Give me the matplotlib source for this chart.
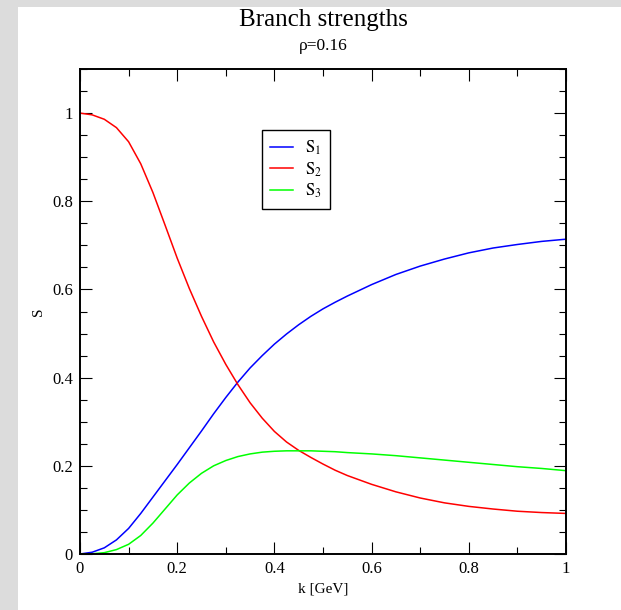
import numpy as np
import matplotlib
matplotlib.use("Agg")
import matplotlib.pyplot as plt
from matplotlib.patches import Rectangle
from matplotlib.ticker import MultipleLocator, FormatStrFormatter

plt.rcParams["font.family"] = ["Liberation Serif", "DejaVu Serif"]
plt.rcParams["mathtext.fontset"] = "stix"

# --- datos ---
k = [0.0, 0.025, 0.05, 0.075, 0.1, 0.125, 0.15, 0.175, 0.2, 0.225, 0.25, 0.275,
     0.3, 0.325, 0.35, 0.375, 0.4, 0.425, 0.45, 0.475, 0.5, 0.525, 0.55, 0.6, 0.65,
     0.7, 0.75, 0.8, 0.85, 0.9, 0.95, 1.0]
s1 = [0.0, 0.004, 0.014, 0.032, 0.058, 0.092, 0.129, 0.166, 0.203, 0.241, 0.279, 0.318,
      0.355, 0.390, 0.422, 0.450, 0.476, 0.499, 0.520, 0.539, 0.556, 0.571, 0.585, 0.611, 0.634,
      0.653, 0.669, 0.683, 0.694, 0.702, 0.709, 0.714]
s2 = [1.0, 0.996, 0.986, 0.967, 0.935, 0.885, 0.820, 0.746, 0.671, 0.602, 0.539, 0.481,
      0.430, 0.384, 0.343, 0.308, 0.278, 0.254, 0.235, 0.219, 0.204, 0.190, 0.178, 0.158, 0.141,
      0.127, 0.116, 0.108, 0.102, 0.097, 0.094, 0.092]
s3 = [0.0, 0.0005, 0.003, 0.010, 0.022, 0.042, 0.070, 0.102, 0.134, 0.161, 0.183, 0.200,
      0.212, 0.221, 0.227, 0.231, 0.233, 0.234, 0.234, 0.234, 0.233, 0.232, 0.230, 0.227, 0.223,
      0.218, 0.213, 0.208, 0.203, 0.198, 0.194, 0.189]

series = [(s1, "#0000ff", r"$\mathrm{S}_1$"),
          (s2, "#ff0000", r"$\mathrm{S}_2$"),
          (s3, "#00ff00", r"$\mathrm{S}_3$")]

W, H = 621, 610
fig = plt.figure(figsize=(W / 100, H / 100), dpi=100)
fig.patch.set_facecolor("#dcdcdc")
fig.patches.append(Rectangle((18 / W, 0), 1 - 18 / W, 1 - 7 / H,
                             transform=fig.transFigure, facecolor="white",
                             edgecolor="none", zorder=-10))

ax = fig.add_axes([80 / W, 1 - 554 / H, 486 / W, 485 / H])
ax.set_zorder(5)
for ys, col, lab in series:
    ax.plot(k, ys, color=col, lw=1.1, label=lab)

ax.set_xlim(0, 1)
ax.set_ylim(0, 1.1)
ax.xaxis.set_major_locator(MultipleLocator(0.2))
ax.xaxis.set_minor_locator(MultipleLocator(0.1))
ax.yaxis.set_major_locator(MultipleLocator(0.2))
ax.yaxis.set_minor_locator(MultipleLocator(0.05))
ax.xaxis.set_major_formatter(FormatStrFormatter("%g"))
ax.yaxis.set_major_formatter(FormatStrFormatter("%g"))
ax.tick_params(which="both", direction="in", top=True, right=True,
               width=0.8, labelsize=12, pad=5)
ax.tick_params(which="major", length=8.5)
ax.tick_params(which="minor", length=5)
for sp in ax.spines.values():
    sp.set_linewidth(1.4)

ax.set_xlabel("k [GeV]", fontsize=11, labelpad=4)
ax.set_ylabel("S", fontsize=11, labelpad=5)

leg = ax.legend(loc="upper left", bbox_to_anchor=(0.374, 0.874), borderaxespad=0,
                fontsize=12, handlelength=1.35, handletextpad=0.75, labelspacing=0.2,
                fancybox=False, framealpha=1, borderpad=0.5)
leg.get_frame().set_edgecolor("black")
leg.get_frame().set_linewidth(1.0)

fig.text(0.5 * (80 + 566) / W, 1 - 20 / H, "Branch strengths", ha="center", va="center", fontsize=18)
fig.text(0.5 * (80 + 566) / W, 1 - 46 / H, "ρ=0.16", ha="center", va="center", fontsize=12.5)

fig.savefig("out.png", dpi=100, facecolor=fig.get_facecolor())
